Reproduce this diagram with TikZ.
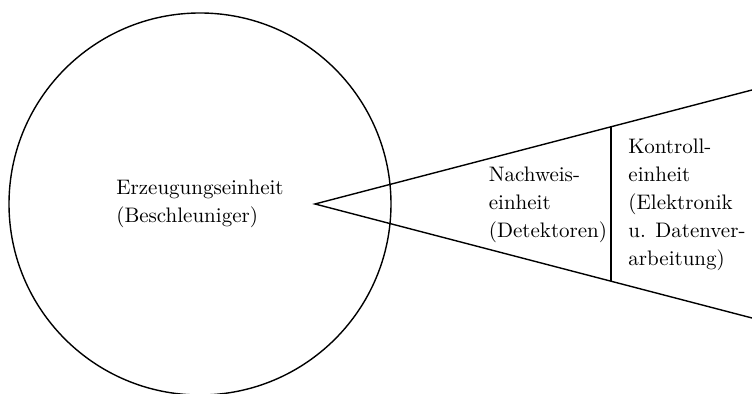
\documentclass[tikz,border=0pt]{standalone}
\usepackage{tikz}
\tikzset{
  unit/.style = {align=left, inner sep=0pt,
    font=\fontsize{10.5}{14}\selectfont},% text of a unit
  ring/.style = {unit, circle, draw, line width=0.7pt,
    minimum size=191pt},% the big circle
  edge/.style = {line width=0.7pt},
}
\begin{document}
\begin{tikzpicture}[x=0.5pt, y=-0.5pt]
\useasboundingbox (0,0) rectangle (752,394);
\node [ring] (erz) at (200,204) {Erzeugungseinheit\\(Beschleuniger)};
\coordinate (apex) at (315,204);
\coordinate (top) at (752,90);
\coordinate (bot) at (752,318);
\coordinate (divtop) at (611,127);
\coordinate (divbot) at (611,281);
\draw [edge] (top) -- (apex) -- (bot);
\draw [edge] (divtop) -- (divbot);
\node [unit] (nachweis) at (548,205) {Nachweis-\\einheit\\(Detektoren)};
\node [unit] (kontroll) at (687,205) {Kontroll-\\einheit\\(Elektronik\\u. Datenver-\\arbeitung)};
\end{tikzpicture}
\end{document}
